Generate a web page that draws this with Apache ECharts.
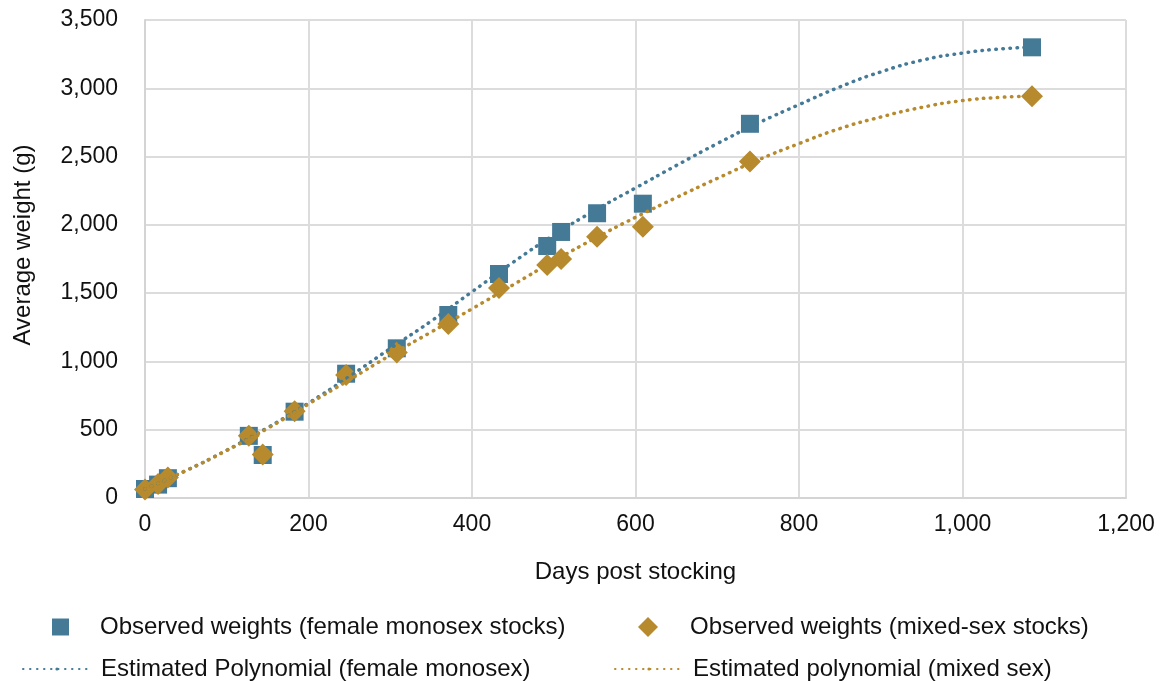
<!DOCTYPE html>
<html>
<head>
<meta charset="utf-8">
<script src="https://cdn.jsdelivr.net/npm/echarts@6/dist/echarts.min.js"></script>
<style>
	html, body {margin: 0; padding: 0; background: #fff;}
	#chart {width: 1164px; height: 681px;}
</style>
</head>
<body>
<div id="chart"></div>
<script>
	// observed weights, same sampling days for both stock types
	var obsDays = [0, 16, 28, 127, 144, 183, 246, 308, 371, 433, 492, 509, 553, 609, 740, 1085];
	var femaleWeights = [66, 98, 145, 455, 315, 632, 910, 1096, 1340, 1640, 1845, 1948, 2085, 2155, 2740, 3300];
	var mixedWeights = [62, 102, 150, 455, 318, 635, 900, 1065, 1274, 1538, 1706, 1750, 1913, 1987, 2463, 2942];

	// fitted polynomial curves
	var trendDays = [0, 50, 100, 150, 200, 250, 300, 350, 400, 450, 500, 550, 600, 650, 700, 750, 800, 850, 900, 950, 1000, 1050, 1085];
	var femaleTrend = [66, 200, 350, 515, 695, 890, 1095, 1295, 1510, 1725, 1925, 2105, 2270, 2435, 2595, 2745, 2880, 3010, 3120, 3205, 3258, 3290, 3300];
	var mixedTrend = [66, 200, 348, 510, 688, 865, 1045, 1215, 1385, 1560, 1735, 1900, 2055, 2200, 2340, 2475, 2595, 2705, 2790, 2860, 2910, 2935, 2942];

	var xTicks = {min: 0, max: 1200, interval: 200};
	var yTicks = {min: 0, max: 3500, interval: 500};

	var names = [
		'Observed weights (female monosex stocks)',
		'Observed weights (mixed-sex stocks)',
		'Estimated Polynomial (female monosex)',
		'Estimated polynomial (mixed sex)'
	];
	var blue = '#457a97';
	var gold = '#b68a2d';
	var font = '"Liberation Sans", Arial, sans-serif';

	function pairs(xs, ys) {
		var out = [];
		for (var i = 0; i < xs.length; i++) {
			out.push([xs[i], ys[i]]);
		}
		return out;
	}

	function fmt(v) {
		return v.toLocaleString('en-US');
	}

	function legendItem(name, left, top, w, h, pad) {
		return {
			data: [name], left: left, top: top, itemWidth: w, itemHeight: h,
			selectedMode: false, padding: 0,
			textStyle: {fontFamily: font, fontSize: 24, color: '#111', padding: [0, 0, 0, pad]}
		};
	}

	var dotted = {width: 3.5, type: [0.5, 6.5], cap: 'round'};

	var chart = echarts.init(document.getElementById('chart'));
	chart.setOption({
		animation: false,
		textStyle: {fontFamily: font},
		grid: {left: 145, right: 38, top: 20, bottom: 183},
		legend: [
			legendItem(names[0], 52, 615, 17, 17, 26),
			legendItem(names[1], 638, 615, 20, 20, 27),
			legendItem(names[2], 22, 657, 68, 4, 5),
			legendItem(names[3], 614, 657, 68, 4, 5)
		],
		xAxis: {
			type: 'value', min: xTicks.min, max: xTicks.max, interval: xTicks.interval,
			name: 'Days post stocking', nameLocation: 'middle', nameGap: 62,
			nameTextStyle: {fontSize: 24, color: '#111'},
			axisLine: {lineStyle: {color: '#d4d4d4', width: 2}},
			axisTick: {show: false},
			axisLabel: {fontSize: 23, color: '#111', margin: 15, formatter: fmt},
			splitLine: {lineStyle: {color: '#dcdcdc', width: 2}}
		},
		yAxis: {
			type: 'value', min: yTicks.min, max: yTicks.max, interval: yTicks.interval,
			name: 'Average weight (g)', nameLocation: 'middle', nameGap: 110,
			nameTextStyle: {fontSize: 24, color: '#111', padding: [0, 0, 0, 28]},
			axisLine: {show: true, lineStyle: {color: '#d4d4d4', width: 2}},
			axisTick: {show: false},
			axisLabel: {fontSize: 23, color: '#111', margin: 27, formatter: fmt},
			splitLine: {lineStyle: {color: '#dcdcdc', width: 2}}
		},
		series: [
			{
				name: names[0], type: 'scatter', symbol: 'rect', symbolSize: 18,
				itemStyle: {color: blue, opacity: 1}, data: pairs(obsDays, femaleWeights), z: 2
			},
			{
				name: names[1], type: 'scatter', symbol: 'diamond', symbolSize: [22, 22],
				itemStyle: {color: gold, opacity: 1}, data: pairs(obsDays, mixedWeights), z: 3
			},
			{
				name: names[2], type: 'line', smooth: true, symbol: 'none',
				lineStyle: Object.assign({color: blue}, dotted),
				itemStyle: {color: blue},
				data: pairs(trendDays, femaleTrend), z: 4
			},
			{
				name: names[3], type: 'line', smooth: true, symbol: 'none',
				lineStyle: Object.assign({color: gold}, dotted),
				itemStyle: {color: gold},
				data: pairs(trendDays, mixedTrend), z: 4
			}
		]
	});

	window.onresize = function () {
		chart.resize();
	};
</script>
</body>
</html>
